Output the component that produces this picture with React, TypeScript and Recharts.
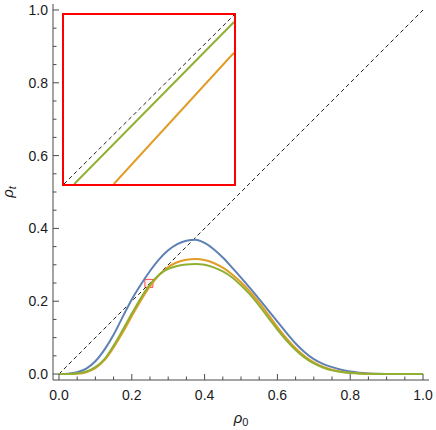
import React from 'react';
import { LineChart, Line, XAxis, YAxis, ReferenceLine, ReferenceArea } from 'recharts';

const xs = [0, 0.025, 0.05, 0.075, 0.1, 0.125, 0.15, 0.175, 0.2, 0.225, 0.25, 0.275, 0.3, 0.325, 0.35, 0.375, 0.4, 0.425, 0.45, 0.475, 0.5, 0.525, 0.55, 0.575, 0.6, 0.625, 0.65, 0.675, 0.7, 0.725, 0.75, 0.775, 0.8, 0.825, 0.85, 0.875, 0.9, 0.925, 0.95, 0.975, 1.0];
const blue = [0, 0.001, 0.005, 0.015, 0.035, 0.067, 0.108, 0.157, 0.205, 0.246, 0.283, 0.315, 0.340, 0.357, 0.366, 0.369, 0.360, 0.343, 0.320, 0.293, 0.265, 0.236, 0.206, 0.175, 0.144, 0.113, 0.084, 0.060, 0.041, 0.028, 0.019, 0.012, 0.0068, 0.0036, 0.0018, 0.0008, 0.0003, 0, 0, 0, 0];
const orange = [0, 0.0002, 0.001, 0.005, 0.016, 0.038, 0.073, 0.114, 0.159, 0.202, 0.241, 0.272, 0.294, 0.307, 0.314, 0.316, 0.313, 0.305, 0.292, 0.274, 0.252, 0.226, 0.196, 0.163, 0.129, 0.098, 0.071, 0.049, 0.032, 0.020, 0.012, 0.0065, 0.0033, 0.0015, 0.0006, 0.0002, 0, 0, 0, 0, 0];
const green = [0, 0.0003, 0.002, 0.007, 0.019, 0.041, 0.078, 0.121, 0.166, 0.209, 0.246, 0.273, 0.289, 0.297, 0.301, 0.302, 0.300, 0.293, 0.282, 0.266, 0.244, 0.218, 0.188, 0.155, 0.122, 0.092, 0.066, 0.045, 0.029, 0.018, 0.010, 0.0055, 0.0028, 0.0012, 0.0005, 0.0002, 0, 0, 0, 0, 0];

const allTicks = [0, 0.05, 0.1, 0.15, 0.2, 0.25, 0.3, 0.35, 0.4, 0.45, 0.5, 0.55, 0.6, 0.65, 0.7, 0.75, 0.8, 0.85, 0.9, 0.95, 1.0];
const domain = [-0.0164, 1.0164];

// small zoom-box marker in main plot
const zoomX = [0.236, 0.258];
const zoomY = [0.238, 0.26];

// inset (zoomed) view
const insetDomain = [0.2365, 0.258];
const insetDiagX = [0.2365, 0.258];
const insetDiagY = [0.2365, 0.258];
const insetGreenX = [0.2378, 0.258];
const insetGreenY = [0.2365, 0.2571];
const insetOrangeX = [0.2428, 0.258];
const insetOrangeY = [0.2365, 0.2532];

const COLORS = { blue: '#5E81B5', orange: '#E19C24', green: '#8FB032' };
const FRAME = '#4a4a4a';
const FONT = '"Liberation Sans", Arial, sans-serif';

const rows = xs.map((x, i) => ({ x, blue: blue[i], orange: orange[i], green: green[i] }));
const toPts = (px: number[], py: number[]) => px.map((x, i) => ({ x, y: py[i] }));

const isMajor = (v: number) => Math.abs(v * 5 - Math.round(v * 5)) < 1e-6;

const makeTick = (side: 'bottom' | 'top' | 'left' | 'right') => (props: any) => {
  const { x, y, payload } = props;
  const v = payload.value;
  const major = isMajor(v);
  const len = major ? 6 : 3.5;
  const lbl = v.toFixed(1);
  if (side === 'bottom') {
    return (
      <g>
        <line x1={x} y1={y} x2={x} y2={y - len} stroke={FRAME} strokeWidth={1} />
        {major && (
          <text x={x} y={y + 20} textAnchor="middle" fontFamily={FONT} fontSize={14} fill="#1a1a1a">{lbl}</text>
        )}
      </g>
    );
  }
  if (side === 'top') {
    return <line x1={x} y1={y} x2={x} y2={y + len} stroke={FRAME} strokeWidth={1} />;
  }
  if (side === 'left') {
    return (
      <g>
        <line x1={x} y1={y} x2={x + len} y2={y} stroke={FRAME} strokeWidth={1} />
        {major && (
          <text x={x - 5} y={y + 5} textAnchor="end" fontFamily={FONT} fontSize={14} fill="#1a1a1a">{lbl}</text>
        )}
      </g>
    );
  }
  return <line x1={x} y1={y} x2={x - len} y2={y} stroke={FRAME} strokeWidth={1} />;
};

export default function App() {
  return (
    <div style={{ position: 'absolute', left: 0, top: 0, width: 436, height: 430, background: '#fff' }}>
      <LineChart width={436} height={430} data={rows} margin={{ top: 4, right: 7, left: 0, bottom: 0 }}>
        <XAxis xAxisId="b" dataKey="x" type="number" domain={domain} ticks={allTicks} interval={0}
          height={50} tickSize={0} tickMargin={0} tickLine={false} tick={makeTick('bottom')}
          axisLine={{ stroke: FRAME }} allowDataOverflow />
        <XAxis xAxisId="t" orientation="top" dataKey="x" type="number" domain={domain} ticks={allTicks} interval={0}
          height={0} tickSize={0} tickMargin={0} tickLine={false} tick={makeTick('top')}
          axisLine={{ stroke: FRAME }} allowDataOverflow />
        <YAxis yAxisId="l" type="number" domain={domain} ticks={allTicks} interval={0}
          width={53} tickSize={0} tickMargin={0} tickLine={false} tick={makeTick('left')}
          axisLine={{ stroke: FRAME }} allowDataOverflow />
        <YAxis yAxisId="r" orientation="right" type="number" domain={domain} ticks={allTicks} interval={0}
          width={0} tickSize={0} tickMargin={0} tickLine={false} tick={makeTick('right')}
          axisLine={{ stroke: FRAME }} allowDataOverflow />
        <ReferenceLine xAxisId="b" yAxisId="l" segment={[{ x: 0, y: 0 }, { x: 1, y: 1 }]}
          stroke="#222" strokeWidth={1} strokeDasharray="4 3" />
        <Line xAxisId="b" yAxisId="l" dataKey="blue" type="monotone" stroke={COLORS.blue} strokeWidth={2} dot={false} isAnimationActive={false} />
        <Line xAxisId="b" yAxisId="l" dataKey="orange" type="monotone" stroke={COLORS.orange} strokeWidth={2} dot={false} isAnimationActive={false} />
        <Line xAxisId="b" yAxisId="l" dataKey="green" type="monotone" stroke={COLORS.green} strokeWidth={2} dot={false} isAnimationActive={false} />
        <ReferenceArea xAxisId="b" yAxisId="l" x1={zoomX[0]} x2={zoomX[1]} y1={zoomY[0]} y2={zoomY[1]}
          stroke="#ff0000" strokeOpacity={0.7} fill="#ff0000" fillOpacity={0.08} strokeWidth={1} />
      </LineChart>

      <svg width={436} height={430} style={{ position: 'absolute', left: 0, top: 0, pointerEvents: 'none' }}>
        <text x={241} y={423} textAnchor="middle" fontFamily={FONT} fontSize={15} fill="#1a1a1a">
          <tspan fontStyle="italic">ρ</tspan>
          <tspan fontSize={11} dy={3}>0</tspan>
        </text>
        <text transform="translate(13,192) rotate(-90)" textAnchor="middle" fontFamily={FONT} fontSize={15} fill="#1a1a1a">
          <tspan fontStyle="italic">ρ</tspan>
          <tspan fontSize={11} dy={3} fontStyle="italic">t</tspan>
        </text>
      </svg>

      <div style={{ position: 'absolute', left: 62, top: 13, width: 174, height: 173, border: '2px solid #ff0000', boxSizing: 'border-box', background: '#fff' }}>
        <LineChart width={170} height={169} margin={{ top: 0, right: 0, left: 0, bottom: 0 }}>
          <XAxis dataKey="x" type="number" domain={insetDomain} hide allowDataOverflow />
          <YAxis type="number" domain={insetDomain} hide allowDataOverflow width={0} />
          <Line data={toPts(insetDiagX, insetDiagY)} dataKey="y" type="linear" stroke="#222" strokeWidth={1} strokeDasharray="4 3" dot={false} isAnimationActive={false} />
          <Line data={toPts(insetOrangeX, insetOrangeY)} dataKey="y" type="linear" stroke={COLORS.orange} strokeWidth={2} dot={false} isAnimationActive={false} />
          <Line data={toPts(insetGreenX, insetGreenY)} dataKey="y" type="linear" stroke={COLORS.green} strokeWidth={2} dot={false} isAnimationActive={false} />
        </LineChart>
      </div>
    </div>
  );
}
